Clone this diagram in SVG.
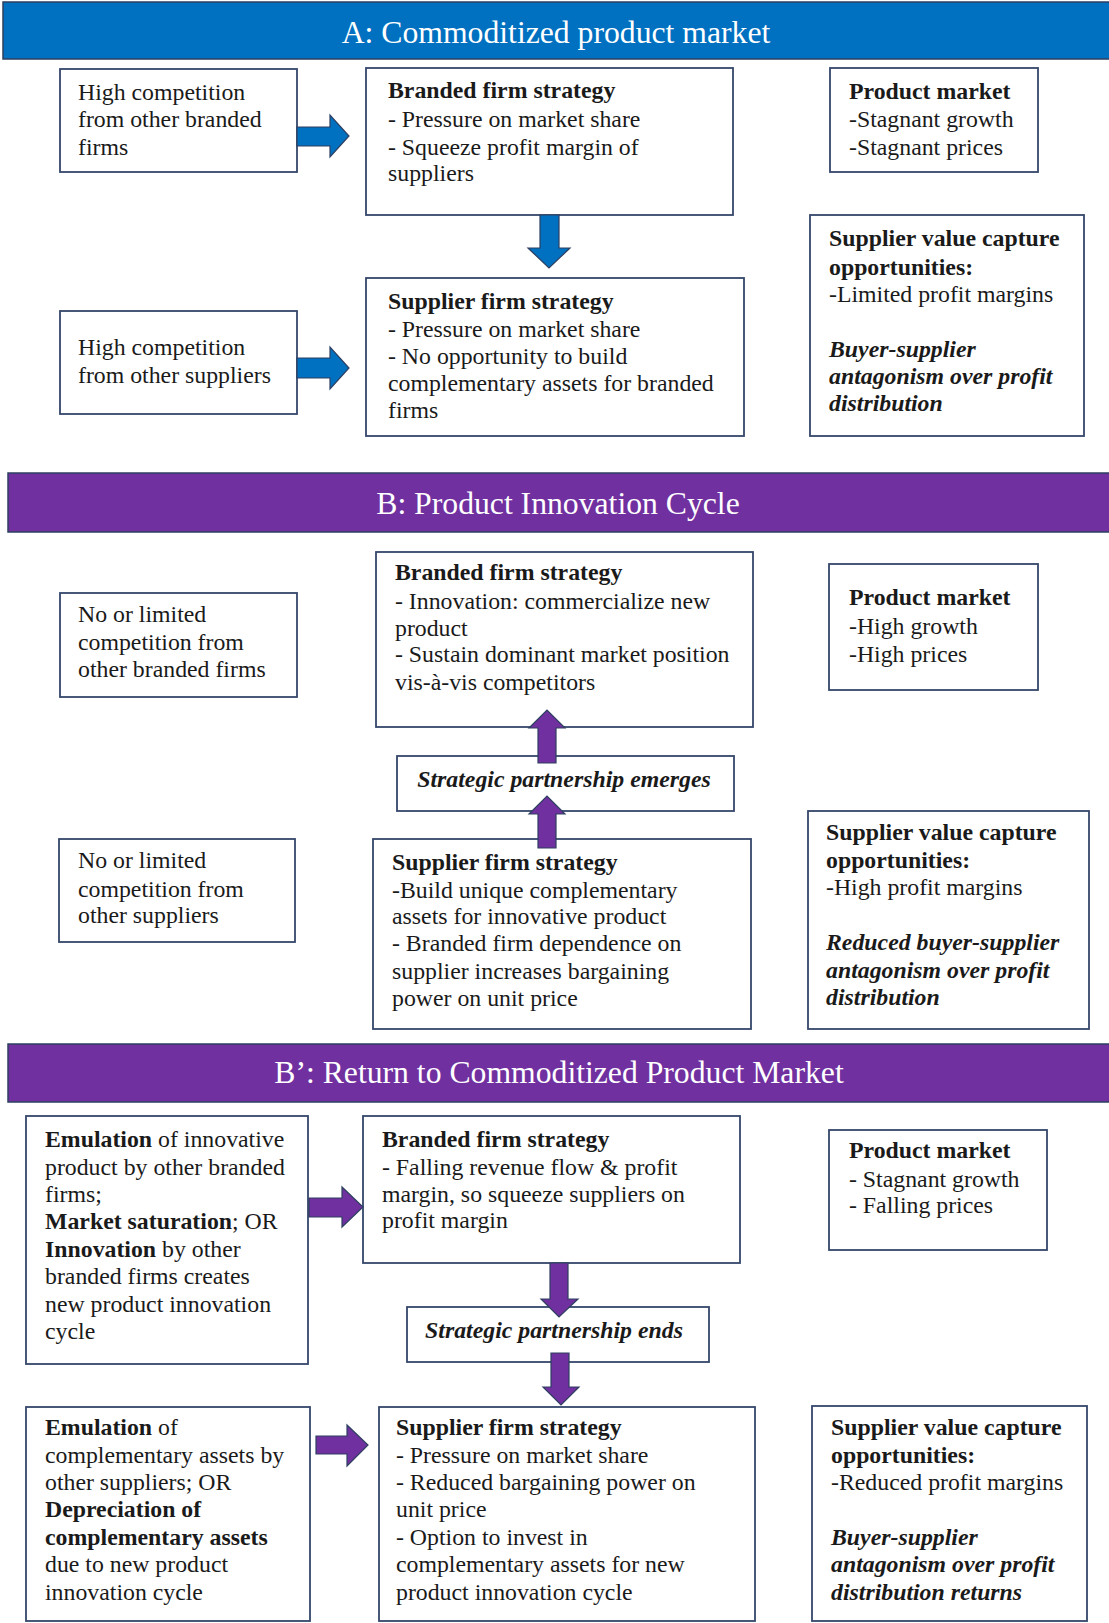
<svg xmlns="http://www.w3.org/2000/svg" width="1109" height="1623" viewBox="0 0 1109 1623">
<style>
.box{fill:#ffffff;stroke:#34466B;stroke-width:1.8}
.bar{stroke:#2E3F60;stroke-width:1.5}
.blue{fill:#0070C0}
.purple{fill:#7030A0}
.t{font-family:"Liberation Serif","Times New Roman",serif;font-size:23.8px;fill:#1a1a1a}
.h{font-family:"Liberation Serif","Times New Roman",serif;font-size:31.7px;fill:#ffffff;text-anchor:middle}
.b{font-weight:bold}
.bi{font-weight:bold;font-style:italic}
.c{text-anchor:middle}
.arr{stroke:#2E3F60;stroke-width:1.2;stroke-linejoin:miter}
</style>
<rect width="1109" height="1623" fill="#ffffff"/>

<g id="header-a">
<rect class="bar blue" x="3" y="2" width="1110" height="57"/>
<text class="h" x="556" y="43">A: Commoditized product market</text>
</g>
<g id="a-comp1">
<rect class="box" x="60" y="69" width="237" height="103"/>
<text class="t" x="78" y="100">High competition</text>
<text class="t" x="78" y="127">from other branded</text>
<text class="t" x="78" y="155">firms</text>
</g>
<g id="a-branded">
<rect class="box" x="366" y="68" width="367" height="147"/>
<text class="t b" x="388" y="98">Branded firm strategy</text>
<text class="t" x="388" y="127">- Pressure on market share</text>
<text class="t" x="388" y="155">- Squeeze profit margin of</text>
<text class="t" x="388" y="181">suppliers</text>
</g>
<g id="a-market">
<rect class="box" x="830" y="68" width="208" height="104"/>
<text class="t b" x="849" y="99">Product market</text>
<text class="t" x="849" y="127">-Stagnant growth</text>
<text class="t" x="849" y="155">-Stagnant prices</text>
</g>
<g id="a-comp2">
<rect class="box" x="60" y="311" width="237" height="103"/>
<text class="t" x="78" y="355">High competition</text>
<text class="t" x="78" y="383">from other suppliers</text>
</g>
<g id="a-supplier">
<rect class="box" x="366" y="278" width="378" height="158"/>
<text class="t b" x="388" y="309">Supplier firm strategy</text>
<text class="t" x="388" y="337">- Pressure on market share</text>
<text class="t" x="388" y="364">- No opportunity to build</text>
<text class="t" x="388" y="391">complementary assets for branded</text>
<text class="t" x="388" y="418">firms</text>
</g>
<g id="a-value">
<rect class="box" x="810" y="215" width="274" height="221"/>
<text class="t b" x="829" y="246">Supplier value capture</text>
<text class="t b" x="829" y="275">opportunities:</text>
<text class="t" x="829" y="302">-Limited profit margins</text>
<text class="t bi" x="829" y="357">Buyer-supplier</text>
<text class="t bi" x="829" y="384">antagonism over profit</text>
<text class="t bi" x="829" y="411">distribution</text>
</g>

<g id="header-b">
<rect class="bar purple" x="8" y="473" width="1105" height="59"/>
<text class="h" x="558" y="514">B: Product Innovation Cycle</text>
</g>
<g id="b-comp1">
<rect class="box" x="60" y="593" width="237" height="104"/>
<text class="t" x="78" y="622">No or limited</text>
<text class="t" x="78" y="650">competition from</text>
<text class="t" x="78" y="677">other branded firms</text>
</g>
<g id="b-branded">
<rect class="box" x="376" y="552" width="377" height="175"/>
<text class="t b" x="395" y="580">Branded firm strategy</text>
<text class="t" x="395" y="609">- Innovation: commercialize new</text>
<text class="t" x="395" y="636">product</text>
<text class="t" x="395" y="662">- Sustain dominant market position</text>
<text class="t" x="395" y="690">vis-à-vis competitors</text>
</g>
<g id="b-market">
<rect class="box" x="829" y="564" width="209" height="126"/>
<text class="t b" x="849" y="605">Product market</text>
<text class="t" x="849" y="634">-High growth</text>
<text class="t" x="849" y="662">-High prices</text>
</g>
<g id="b-emerges">
<rect class="box" x="397" y="756" width="337" height="55"/>
<text class="t bi c" x="564" y="787">Strategic partnership emerges</text>
</g>
<g id="b-comp2">
<rect class="box" x="59" y="839" width="236" height="103"/>
<text class="t" x="78" y="868">No or limited</text>
<text class="t" x="78" y="897">competition from</text>
<text class="t" x="78" y="923">other suppliers</text>
</g>
<g id="b-supplier">
<rect class="box" x="373" y="839" width="378" height="190"/>
<text class="t b" x="392" y="870">Supplier firm strategy</text>
<text class="t" x="392" y="898">-Build unique complementary</text>
<text class="t" x="392" y="924">assets for innovative product</text>
<text class="t" x="392" y="951">- Branded firm dependence on</text>
<text class="t" x="392" y="979">supplier increases bargaining</text>
<text class="t" x="392" y="1006">power on unit price</text>
</g>
<g id="b-value">
<rect class="box" x="808" y="811" width="281" height="218"/>
<text class="t b" x="826" y="840">Supplier value capture</text>
<text class="t b" x="826" y="868">opportunities:</text>
<text class="t" x="826" y="895">-High profit margins</text>
<text class="t bi" x="826" y="950">Reduced buyer-supplier</text>
<text class="t bi" x="826" y="978">antagonism over profit</text>
<text class="t bi" x="826" y="1005">distribution</text>
</g>

<g id="header-bp">
<rect class="bar purple" x="8" y="1044" width="1105" height="58"/>
<text class="h" x="559" y="1083">B’: Return to Commoditized Product Market</text>
</g>
<g id="bp-emul1">
<rect class="box" x="26" y="1116" width="282" height="248"/>
<text class="t" x="45" y="1147"><tspan class="b">Emulation</tspan> of innovative</text>
<text class="t" x="45" y="1175">product by other branded</text>
<text class="t" x="45" y="1202">firms;</text>
<text class="t" x="45" y="1229"><tspan class="b">Market saturation</tspan>; OR</text>
<text class="t" x="45" y="1257"><tspan class="b">Innovation</tspan> by other</text>
<text class="t" x="45" y="1284">branded firms creates</text>
<text class="t" x="45" y="1312">new product innovation</text>
<text class="t" x="45" y="1339">cycle</text>
</g>
<g id="bp-branded">
<rect class="box" x="363" y="1116" width="377" height="147"/>
<text class="t b" x="382" y="1147">Branded firm strategy</text>
<text class="t" x="382" y="1175">- Falling revenue flow &amp; profit</text>
<text class="t" x="382" y="1202">margin, so squeeze suppliers on</text>
<text class="t" x="382" y="1228">profit margin</text>
</g>
<g id="bp-market">
<rect class="box" x="829" y="1130" width="218" height="120"/>
<text class="t b" x="849" y="1158">Product market</text>
<text class="t" x="849" y="1187">- Stagnant growth</text>
<text class="t" x="849" y="1213">- Falling prices</text>
</g>
<g id="bp-ends">
<rect class="box" x="407" y="1307" width="302" height="55"/>
<text class="t bi c" x="554" y="1338">Strategic partnership ends</text>
</g>
<g id="bp-emul2">
<rect class="box" x="26" y="1407" width="284" height="214"/>
<text class="t" x="45" y="1435"><tspan class="b">Emulation</tspan> of</text>
<text class="t" x="45" y="1463">complementary assets by</text>
<text class="t" x="45" y="1490">other suppliers; OR</text>
<text class="t b" x="45" y="1517">Depreciation of</text>
<text class="t b" x="45" y="1545">complementary assets</text>
<text class="t" x="45" y="1572">due to new product</text>
<text class="t" x="45" y="1600">innovation cycle</text>
</g>
<g id="bp-supplier">
<rect class="box" x="379" y="1407" width="376" height="214"/>
<text class="t b" x="396" y="1435">Supplier firm strategy</text>
<text class="t" x="396" y="1463">- Pressure on market share</text>
<text class="t" x="396" y="1490">- Reduced bargaining power on</text>
<text class="t" x="396" y="1517">unit price</text>
<text class="t" x="396" y="1545">- Option to invest in</text>
<text class="t" x="396" y="1572">complementary assets for new</text>
<text class="t" x="396" y="1600">product innovation cycle</text>
</g>
<g id="bp-value">
<rect class="box" x="812" y="1406" width="275" height="215"/>
<text class="t b" x="831" y="1435">Supplier value capture</text>
<text class="t b" x="831" y="1463">opportunities:</text>
<text class="t" x="831" y="1490">-Reduced profit margins</text>
<text class="t bi" x="831" y="1545">Buyer-supplier</text>
<text class="t bi" x="831" y="1572">antagonism over profit</text>
<text class="t bi" x="831" y="1600">distribution returns</text>
</g>

<g id="connectors">
<polygon class="arr blue" points="297,127 330,127 330,115 349,136 330,157 330,146 297,146"/>
<polygon class="arr blue" points="297,358 330,358 330,347 349,368 330,389 330,378 297,378"/>
<polygon class="arr blue" points="540,215 559,215 559,248 570,248 549,268 528,248 540,248"/>
<polygon class="arr purple" points="538,763 538,728 529,728 547,710 565,728 556,728 556,763"/>
<polygon class="arr purple" points="538,848 538,814 529,814 547,796 565,814 556,814 556,848"/>
<polygon class="arr purple" points="309,1198 342,1198 342,1187 363,1207 342,1227 342,1217 309,1217"/>
<polygon class="arr purple" points="316,1436 347,1436 347,1425 368,1445 347,1466 347,1454 316,1454"/>
<polygon class="arr purple" points="550,1263 568,1263 568,1299 578,1299 559,1317 541,1299 550,1299"/>
<polygon class="arr purple" points="551,1353 569,1353 569,1387 579,1387 561,1405 543,1387 551,1387"/>
</g>
</svg>
